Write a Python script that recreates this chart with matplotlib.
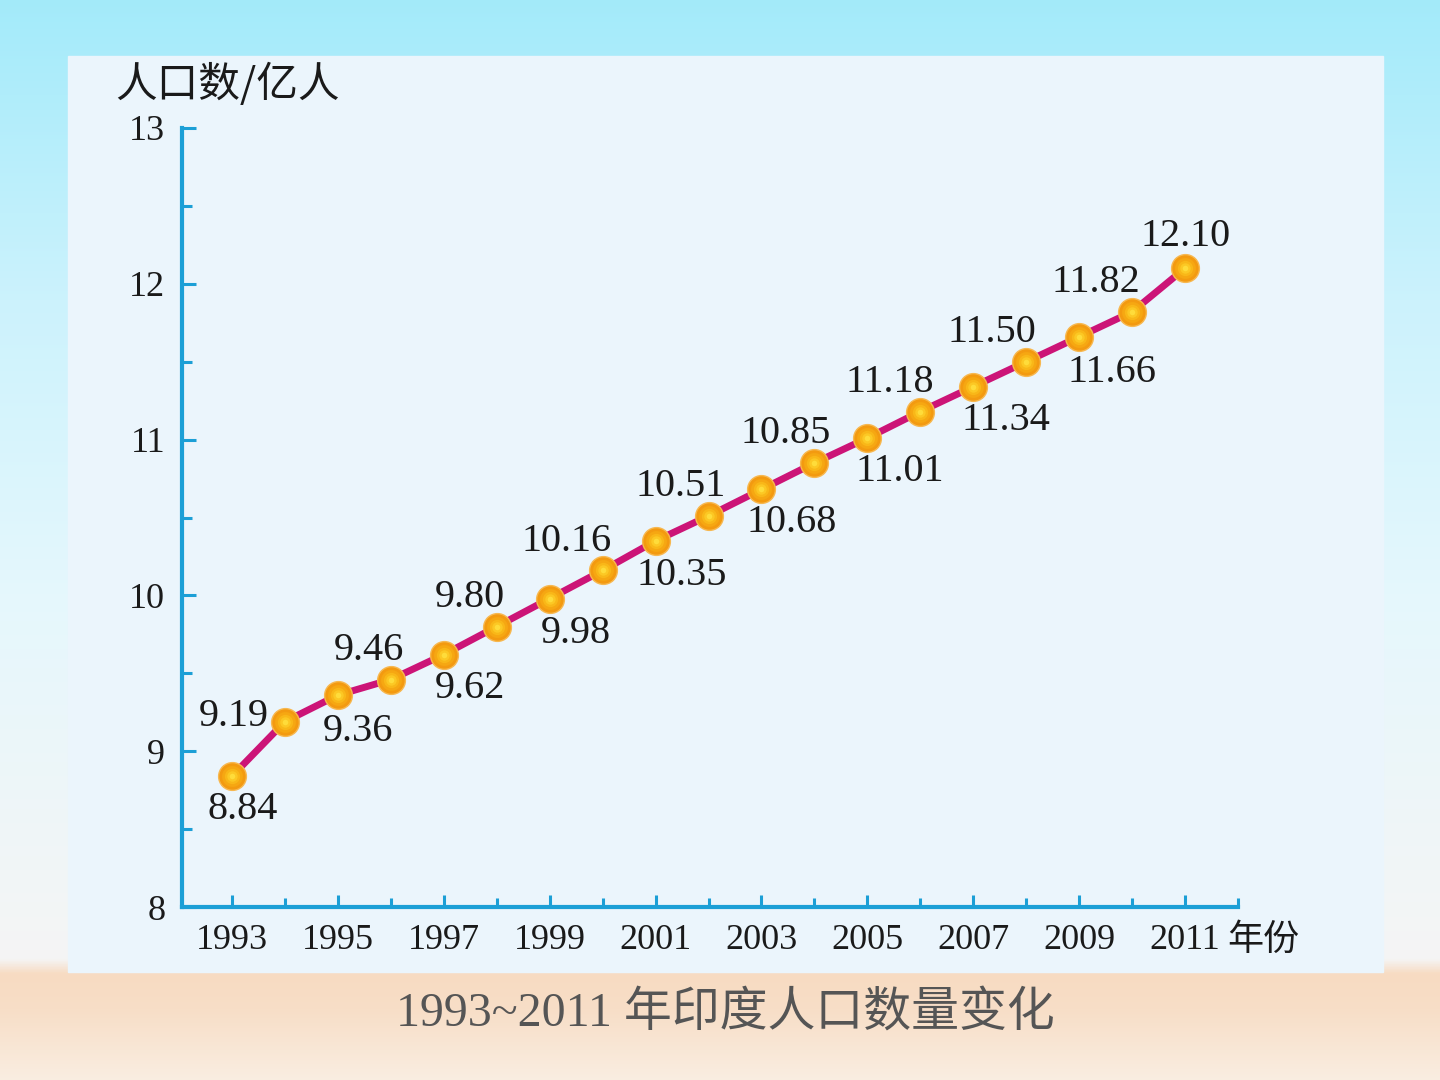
import numpy as np
import matplotlib.pyplot as plt
from matplotlib.patches import Rectangle

# data
years = list(range(1993, 2012))
population = [8.84, 9.19, 9.36, 9.46, 9.62, 9.80, 9.98, 10.16, 10.35, 10.51,
              10.68, 10.85, 11.01, 11.18, 11.34, 11.50, 11.66, 11.82, 12.10]
major_years = list(range(1993, 2012, 2))
y_major = [8, 9, 10, 11, 12, 13]

# label placement relative to each point, in pixels (dx, dy)
label_offsets = [(11, -33), (-51, 5), (20, -36), (-22, 29), (26, -34), (-27, 29),
                 (26, -35), (-36, 29), (26, -35), (-28, 29), (30, -33), (-29, 29),
                 (32, -33), (-30, 29), (33, -34), (-34, 29), (33, -36), (-36, 29),
                 (1, 32)]

axis_color = '#1c9fd6'
line_color = '#cc1477'
serif = ['Liberation Serif', 'Noto Sans CJK SC']
cjk = ['Noto Sans CJK SC', 'DejaVu Sans']

fig = plt.figure(figsize=(14.4, 10.8), dpi=100)

# background: sky on top, sand at the bottom
bg = fig.add_axes([0, 0, 1, 1])
rows = np.linspace(0, 1080, 400)
stops = [0, 300, 600, 960, 975, 1010, 1080]
r = np.interp(rows, stops, [0.64, 0.80, 0.90, 0.96, 0.97, 0.97, 0.98])
g = np.interp(rows, stops, [0.92, 0.95, 0.97, 0.96, 0.86, 0.87, 0.93])
b = np.interp(rows, stops, [0.98, 0.99, 0.99, 0.96, 0.76, 0.78, 0.88])
img = np.stack([r, g, b], axis=1)[:, None, :].repeat(2, axis=1)
bg.imshow(img, aspect='auto', extent=[0, 1440, 1080, 0])
bg.add_patch(Rectangle((68, 56), 1383 - 68, 972 - 56, color='#ebf5fc', zorder=2))
bg.set_xlim(0, 1440)
bg.set_ylim(1080, 0)
bg.axis('off')

ax = fig.add_axes([182 / 1440, 1 - 907 / 1080, (1238 - 182) / 1440, (907 - 128) / 1080])
ax.patch.set_alpha(0)

ax.plot(years, population, color=line_color, lw=5, zorder=3, solid_capstyle='round')
# orange ball markers with a soft yellow centre
ax.plot(years, population, 'o', ms=20, color='#f39a10', mec='#f7b850', mew=1, zorder=4)
for size, col in [(15, '#f6a712'), (11, '#f9b718'), (7.5, '#fcc824'), (4, '#ffdc3a')]:
    ax.plot(years, population, 'o', ms=size, color=col, mec='none', zorder=5)

for x, y, (dx, dy) in zip(years, population, label_offsets):
    ax.annotate(f'{y:.2f}', (x, y), xytext=(dx, dy), textcoords='offset pixels',
                ha='center', va='center', fontsize=29, family=serif, color='#1a1a1a')

ax.set_xlim(1992.056, 2012.0)
ax.set_ylim(8, 13)

for side in ['top', 'right']:
    ax.spines[side].set_visible(False)
for side in ['left', 'bottom']:
    ax.spines[side].set_color(axis_color)
    ax.spines[side].set_linewidth(3)

ax.set_xticks(major_years)
ax.set_xticklabels([str(y) for y in major_years])
ax.set_xticks([y + 1 for y in major_years], minor=True)
ax.set_yticks(y_major)
ax.set_yticks([v + 0.5 for v in y_major[:-1]], minor=True)

ax.tick_params(which='major', direction='in', color=axis_color, width=2.2, labelsize=26)
ax.tick_params(which='minor', direction='in', color=axis_color, width=2.2)
ax.tick_params(axis='x', which='major', length=9, pad=12)
ax.tick_params(axis='x', which='minor', length=6.5)
ax.tick_params(axis='y', which='major', length=10, pad=12)
ax.tick_params(axis='y', which='minor', length=7)
for lab in ax.get_xticklabels() + ax.get_yticklabels():
    lab.set_family(serif)
    lab.set_color('#1a1a1a')

fig.text(115 / 1440, 1 - 84 / 1080, '人口数/亿人', fontsize=30, family=cjk,
         ha='left', va='center', color='#1a1a1a')
fig.text(1227 / 1440, 1 - 940 / 1080, '年份', fontsize=26, family=cjk,
         ha='left', va='center', color='#1a1a1a')
fig.text(725 / 1440, 1 - 1013 / 1080, '1993~2011 年印度人口数量变化', fontsize=34.5,
         family=serif, ha='center', va='center', color='#555555')

fig.savefig('out.png', dpi=100)
